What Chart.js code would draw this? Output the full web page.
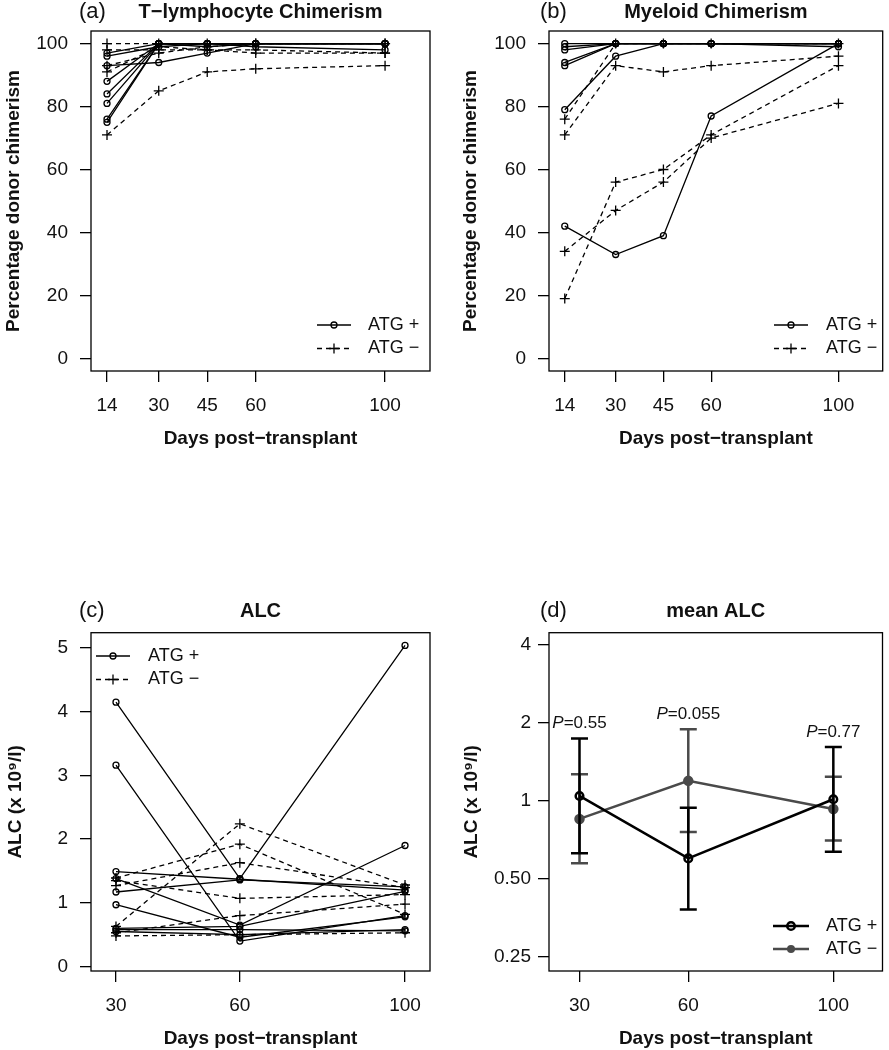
<!DOCTYPE html>
<html>
<head>
<meta charset="utf-8">
<script src="https://cdn.jsdelivr.net/npm/chart.js@4.4.1/dist/chart.umd.min.js"></script>
<style>
  html, body { margin: 0; padding: 0; background: #fff; }
  #wrap { position: relative; width: 889px; height: 1050px; }
  canvas { position: absolute; }
</style>
</head>
<body>
<div id="wrap">
  <canvas id="chartA" width="444" height="525" style="left:0;top:0"></canvas>
  <canvas id="chartB" width="445" height="525" style="left:444px;top:0"></canvas>
  <canvas id="chartC" width="444" height="525" style="left:0;top:525px"></canvas>
  <canvas id="chartD" width="445" height="525" style="left:444px;top:525px"></canvas>
</div>
<script>
// ---- data ----
const chimerismDays = [14, 30, 45, 60, 100];
const chimerismTicks = [0, 20, 40, 60, 80, 100];

// (a) T-lymphocyte chimerism, one row per patient
const tcellAtgPos = [
    [97, 100, 100, 100, 100],
    [96, 99, 100, 99, 98],
    [93, 94, 97, 100, 100],
    [88, 100, 100, 100, 100],
    [84, 100, 100, 100, 100],
    [81, 100, 99, 100, 100],
    [76, 100, 100, 100, 100],
    [75, 100, 100, 100, 100]
];
const tcellAtgNeg = [
    [100, 100, 100, 100, 100],
    [98, 98, 98, 97, 97],
    [93, 97, 99, 100, 100],
    [91, 99, 98, 98, 97],
    [71, 85, 91, 92, 93]
];

// (b) Myeloid chimerism
const myeloidAtgPos = [
    [100, 100, 100, 100, 100],
    [99, 100, 100, 100, 100],
    [98, 100, 100, 100, 99],
    [94, 100, 100, 100, 100],
    [93, 100, 100, 100, 100],
    [79, 96, 100, 100, 100],
    [42, 33, 39, 77, 100]
];
const myeloidAtgNeg = [
    [76, 100, 100, 100, 100],
    [71, 93, 91, 93, 96],
    [34, 47, 56, 70, 81],
    [19, 56, 60, 71, 93]
];

// (c) ALC per patient (x10^9/l)
const alcDays = [30, 60, 100];
const alcTicks = [0, 1, 2, 3, 4, 5];
const alcAtgPos = [
    [4.15, 1.38, 5.04],
    [3.16, 0.40, 0.80],
    [1.49, 1.37, 1.20],
    [1.17, 1.36, 1.25],
    [0.97, 0.46, 0.78],
    [1.38, 0.65, 1.90],
    [0.60, 0.63, 1.18],
    [0.55, 0.50, 0.58],
    [0.58, 0.58, 0.56]
];
const alcAtgNeg = [
    [0.63, 2.24, 1.28],
    [1.39, 1.92, 0.82],
    [1.27, 1.63, 1.24],
    [1.35, 1.07, 1.13],
    [0.53, 0.80, 0.98],
    [0.48, 0.50, 0.53]
];

// (d) mean ALC with error bars (log scale)
const meanTicks = [0.25, 0.5, 1, 2, 4];
const meanTickLabels = ['0.25', '0.50', '1', '2', '4'];
const meanAtgPos = [1.045, 0.60, 1.015];
const meanAtgPosLo = [0.628, 0.381, 0.637];
const meanAtgPosHi = [1.74, 0.942, 1.616];
const meanAtgNeg = [0.852, 1.195, 0.931];
const meanAtgNegLo = [0.575, 0.758, 0.703];
const meanAtgNegHi = [1.268, 1.89, 1.24];
const pValues = ['0.55', '0.055', '0.77'];

// ---- styling ----
const FONT = "'Liberation Sans', Arial, Helvetica, sans-serif";
const INK = '#111';
const GREY = '#4a4a4a';

const posStyle = { color: '#000', lineWidth: 1.3, dash: [], pointStyle: 'circle', radius: 3, filled: false };
const negStyle = { color: '#000', lineWidth: 1.3, dash: [5, 4], pointStyle: 'cross', radius: 5, filled: false };
const meanPosStyle = { color: '#000', lineWidth: 2.5, dash: [], pointStyle: 'circle', radius: 3.8, filled: false };
const meanNegStyle = { color: GREY, lineWidth: 2.5, dash: [], pointStyle: 'circle', radius: 4, filled: true };

function toPoints(days, values) {
    return days.map((d, i) => ({ x: d, y: values[i] }));
}

function lineDataset(days, values, st) {
    return {
        data: toPoints(days, values),
        borderColor: st.color,
        borderWidth: st.lineWidth,
        borderDash: st.dash,
        pointStyle: st.pointStyle,
        pointRadius: st.radius,
        pointBorderColor: st.color,
        pointBorderWidth: st.lineWidth,
        pointBackgroundColor: st.filled ? st.color : 'rgba(0,0,0,0)'
    };
}

function drawMarker(ctx, st, x, y) {
    ctx.save();
    ctx.strokeStyle = st.color;
    ctx.fillStyle = st.color;
    ctx.lineWidth = st.lineWidth;
    ctx.setLineDash([]);
    ctx.beginPath();
    if (st.pointStyle === 'cross') {
        ctx.moveTo(x - st.radius, y); ctx.lineTo(x + st.radius, y);
        ctx.moveTo(x, y - st.radius); ctx.lineTo(x, y + st.radius);
        ctx.stroke();
    } else {
        ctx.arc(x, y, st.radius, 0, Math.PI * 2);
        if (st.filled) ctx.fill(); else ctx.stroke();
    }
    ctx.restore();
}

// box, panel tag, title and R-style legend
const panelDecor = {
    id: 'panelDecor',
    afterDraw(chart, args, opts) {
        const { ctx, chartArea: a } = chart;
        ctx.save();
        ctx.strokeStyle = '#000';
        ctx.lineWidth = 1.3;
        ctx.strokeRect(a.left, a.top, a.right - a.left, a.bottom - a.top);

        ctx.fillStyle = INK;
        ctx.textBaseline = 'alphabetic';
        ctx.textAlign = 'left';
        ctx.font = '22px ' + FONT;
        ctx.fillText(opts.tag, opts.tagX, opts.baseline);
        ctx.textAlign = 'center';
        ctx.font = 'bold 20px ' + FONT;
        ctx.fillText(opts.title, (a.left + a.right) / 2, opts.baseline);

        const L = opts.legend;
        L.items.forEach((it, k) => {
            const yy = L.y + k * L.dy;
            ctx.save();
            ctx.strokeStyle = it.style.color;
            ctx.lineWidth = it.style.lineWidth;
            ctx.setLineDash(it.style.dash);
            ctx.beginPath();
            ctx.moveTo(L.x, yy);
            ctx.lineTo(L.x + L.len, yy);
            ctx.stroke();
            ctx.restore();
            drawMarker(ctx, it.style, L.x + L.len / 2, yy);
            ctx.fillStyle = INK;
            ctx.textAlign = 'left';
            ctx.textBaseline = 'middle';
            ctx.font = '18px ' + FONT;
            ctx.fillText(it.label, L.textX, yy);
        });
        ctx.restore();
    }
};

// error bars + P-value labels for the mean panel
const errorBars = {
    id: 'errorBars',
    beforeDatasetDraw(chart, args, opts) {
        const ds = chart.data.datasets[args.index];
        if (!ds.errLo) return;
        const { ctx, scales: { x, y } } = chart;
        ctx.save();
        ctx.strokeStyle = ds.borderColor;
        ctx.lineWidth = ds.borderWidth;
        ds.data.forEach((pt, i) => {
            const px = x.getPixelForValue(pt.x);
            const lo = y.getPixelForValue(ds.errLo[i]);
            const hi = y.getPixelForValue(ds.errHi[i]);
            ctx.beginPath();
            ctx.moveTo(px, lo); ctx.lineTo(px, hi);
            ctx.moveTo(px - opts.cap, lo); ctx.lineTo(px + opts.cap, lo);
            ctx.moveTo(px - opts.cap, hi); ctx.lineTo(px + opts.cap, hi);
            ctx.stroke();
        });
        ctx.restore();
    },
    afterDatasetsDraw(chart, args, opts) {
        const { ctx, scales: { x, y } } = chart;
        const sets = chart.data.datasets;
        ctx.save();
        ctx.fillStyle = INK;
        ctx.textBaseline = 'middle';
        ctx.textAlign = 'left';
        opts.pValues.forEach((txt, i) => {
            const px = x.getPixelForValue(sets[0].data[i].x);
            const top = Math.min(...sets.map(d => y.getPixelForValue(d.errHi[i])));
            const cy = top - 15;
            ctx.font = 'italic 17px ' + FONT;
            const wP = ctx.measureText('P').width;
            ctx.font = '17px ' + FONT;
            const wR = ctx.measureText('=' + txt).width;
            const sx = px - (wP + wR) / 2;
            ctx.font = 'italic 17px ' + FONT;
            ctx.fillText('P', sx, cy);
            ctx.font = '17px ' + FONT;
            ctx.fillText('=' + txt, sx + wP, cy);
        });
        ctx.restore();
    }
};

Chart.register(panelDecor, errorBars);

function makePanel(id, p) {
    const ctx = document.getElementById(id).getContext('2d');
    return new Chart(ctx, {
        type: 'line',
        data: { datasets: p.datasets },
        options: {
            responsive: false,
            animation: false,
            devicePixelRatio: 1,
            layout: { padding: { left: 0, top: p.top, right: p.right, bottom: 0 } },
            elements: { line: { tension: 0 } },
            plugins: {
                legend: { display: false },
                tooltip: { enabled: false },
                panelDecor: p.decor,
                errorBars: p.errorBars || false
            },
            scales: {
                x: {
                    type: 'linear',
                    min: p.xMin,
                    max: p.xMax,
                    afterBuildTicks: s => { s.ticks = p.xTicks.map(v => ({ value: v })); },
                    afterFit: s => { s.height = p.xHeight; },
                    ticks: {
                        font: { family: FONT, size: 19 },
                        color: INK,
                        padding: 12.5,
                        maxRotation: 0,
                        autoSkip: false,
                        callback: v => String(v)
                    },
                    grid: { drawOnChartArea: false, drawTicks: true, tickLength: 11, color: '#000', lineWidth: 1.3 },
                    border: { display: false },
                    title: {
                        display: true,
                        text: 'Days post\u2212transplant',
                        color: INK,
                        font: { family: FONT, size: 19, weight: 'bold' },
                        padding: { top: 0, bottom: p.xTitlePad }
                    }
                },
                y: {
                    type: p.yType || 'linear',
                    min: p.yMin,
                    max: p.yMax,
                    afterBuildTicks: s => { s.ticks = p.yTicks.map(v => ({ value: v })); },
                    afterFit: s => { s.width = p.yWidth; },
                    ticks: {
                        font: { family: FONT, size: 19 },
                        color: INK,
                        padding: p.yTickPad,
                        autoSkip: false,
                        callback: p.yLabel || (v => String(v))
                    },
                    grid: { drawOnChartArea: false, drawTicks: true, tickLength: 11, color: '#000', lineWidth: 1.3 },
                    border: { display: false },
                    title: {
                        display: true,
                        text: p.yTitle,
                        color: INK,
                        font: { family: FONT, size: 19, weight: 'bold' },
                        padding: { top: p.yTitlePad, bottom: 0 }
                    }
                }
            }
        }
    });
}

const chimerismLegend = (x, textX, y) => ({
    x: x, len: 34, textX: textX, y: y, dy: 23.5,
    items: [{ label: 'ATG +', style: posStyle }, { label: 'ATG \u2212', style: negStyle }]
});

// (a)
makePanel('chartA', {
    datasets: tcellAtgPos.map(r => lineDataset(chimerismDays, r, posStyle))
        .concat(tcellAtgNeg.map(r => lineDataset(chimerismDays, r, negStyle))),
    top: 31, right: 14, yWidth: 91, xHeight: 154,
    xMin: 9.05, xMax: 113.9, xTicks: chimerismDays,
    yMin: -4, yMax: 104, yTicks: chimerismTicks, yTickPad: 12,
    xTitlePad: 74.6, yTitle: 'Percentage donor chimerism', yTitlePad: 2,
    decor: { tag: '(a)', tagX: 79, baseline: 18, title: 'T\u2212lymphocyte Chimerism', legend: chimerismLegend(317, 368, 325) }
});

// (b)
makePanel('chartB', {
    datasets: myeloidAtgPos.map(r => lineDataset(chimerismDays, r, posStyle))
        .concat(myeloidAtgNeg.map(r => lineDataset(chimerismDays, r, negStyle))),
    top: 31, right: 1, yWidth: 105, xHeight: 154,
    xMin: 9.05, xMax: 113.9, xTicks: chimerismDays,
    yMin: -4, yMax: 104, yTicks: chimerismTicks, yTickPad: 12,
    xTitlePad: 74.6, yTitle: 'Percentage donor chimerism', yTitlePad: 15,
    decor: { tag: '(b)', tagX: 96, baseline: 18, title: 'Myeloid Chimerism', legend: chimerismLegend(330, 382, 325) }
});

// (c)
makePanel('chartC', {
    datasets: alcAtgPos.map(r => lineDataset(alcDays, r, posStyle))
        .concat(alcAtgNeg.map(r => lineDataset(alcDays, r, negStyle))),
    top: 107.7, right: 14, yWidth: 91, xHeight: 79,
    xMin: 23.95, xMax: 106.05, xTicks: alcDays,
    yMin: -0.07, yMax: 5.24, yTicks: alcTicks, yTickPad: 12,
    xTitlePad: 0, yTitle: 'ALC (x 10\u2079/l)', yTitlePad: 4,
    decor: { tag: '(c)', tagX: 79, baseline: 92, title: 'ALC', legend: chimerismLegend(96, 148, 131) }
});

// (d)
const meanPosSet = lineDataset(alcDays, meanAtgPos, meanPosStyle);
meanPosSet.errLo = meanAtgPosLo;
meanPosSet.errHi = meanAtgPosHi;
const meanNegSet = lineDataset(alcDays, meanAtgNeg, meanNegStyle);
meanNegSet.errLo = meanAtgNegLo;
meanNegSet.errHi = meanAtgNegHi;

makePanel('chartD', {
    datasets: [meanPosSet, meanNegSet],
    top: 107.7, right: 1, yWidth: 105, xHeight: 79,
    xMin: 21.59, xMax: 113.56, xTicks: alcDays,
    yType: 'logarithmic', yMin: 0.2205, yMax: 4.46, yTicks: meanTicks, yTickPad: 7,
    yLabel: (v, i) => meanTickLabels[i],
    xTitlePad: 0, yTitle: 'ALC (x 10\u2079/l)', yTitlePad: 16.6,
    errorBars: { cap: 8.5, pValues: pValues },
    decor: {
        tag: '(d)', tagX: 96, baseline: 92, title: 'mean ALC',
        legend: {
            x: 329, len: 36, textX: 382, y: 401, dy: 23,
            items: [{ label: 'ATG +', style: meanPosStyle }, { label: 'ATG \u2212', style: meanNegStyle }]
        }
    }
});
</script>
</body>
</html>
